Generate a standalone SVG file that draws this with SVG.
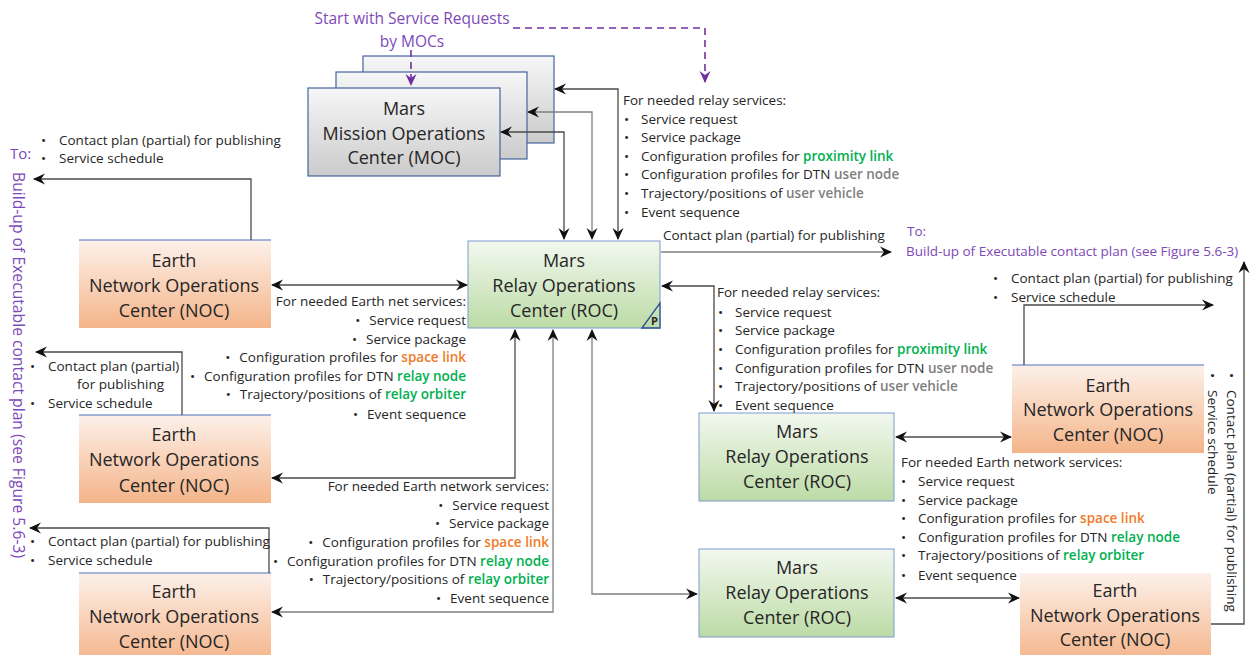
<svg xmlns="http://www.w3.org/2000/svg" width="1255" height="655" viewBox="0 0 1255 655">
  <style>
    text { font-family: "Open Sans", "Noto Sans", "Liberation Sans", sans-serif; fill: #262626; }
    .t { font-size: 13.5px; }
    .box { font-size: 18px; text-anchor: middle; }
    .purple { fill: #7d48b8; }
    .g { fill: #00b050; font-weight: 600; }
    .o { fill: #f07a28; font-weight: 600; }
    .u { fill: #7f7f7f; font-weight: 600; }
    .end { text-anchor: end; }
    .ln { fill: none; stroke: #4a4a4a; stroke-width: 1.3; }
    .ln2 { fill: none; stroke: #808080; stroke-width: 1.3; }
    .dash { fill: none; stroke: #7030a0; stroke-width: 1.6; stroke-dasharray: 7 5; }
    .moc { fill: url(#gMoc); stroke: #41649e; stroke-width: 1.2; }
    .roc { fill: url(#gRoc); stroke: #7f9bd0; stroke-width: 1; }
    .noc { fill: url(#gNoc); stroke: none; }
    .top { stroke: #4f71be; stroke-width: 1.2; }
  </style>
  <defs>
    <linearGradient id="gMoc" x1="0" y1="0" x2="0" y2="1">
      <stop offset="0" stop-color="#f7f7f7"/>
      <stop offset="1" stop-color="#cbcbcb"/>
    </linearGradient>
    <linearGradient id="gRoc" x1="0" y1="0" x2="0" y2="1">
      <stop offset="0" stop-color="#f2f8ef"/>
      <stop offset="1" stop-color="#bcdba6"/>
    </linearGradient>
    <linearGradient id="gNoc" x1="0" y1="0" x2="0" y2="1">
      <stop offset="0" stop-color="#fdf1ea"/>
      <stop offset="1" stop-color="#f4b489"/>
    </linearGradient>
    <marker id="ah" viewBox="0 0 12 12" refX="11" refY="6" markerWidth="12" markerHeight="12" markerUnits="userSpaceOnUse" orient="auto-start-reverse">
      <path d="M0,0.5 L12,6 L0,11.5 L4,6 Z" fill="#111"/>
    </marker>
    <marker id="ahp" viewBox="0 0 12 12" refX="11" refY="6" markerWidth="12" markerHeight="12" markerUnits="userSpaceOnUse" orient="auto-start-reverse">
      <path d="M0,0.5 L12,6 L0,11.5 L4,6 Z" fill="#7030a0"/>
    </marker>
  </defs>

  <!-- Start label -->
  <text class="purple" x="412" y="24" font-size="15.5" text-anchor="middle">Start with Service Requests</text>
  <text class="purple" x="412" y="47" font-size="15.5" text-anchor="middle">by MOCs</text>

  <!-- Mars MOC (stacked) -->
  <g id="moc">
    <rect class="moc" x="363" y="56" width="191" height="87"/>
    <rect class="moc" x="336" y="72" width="191" height="87"/>
    <rect class="moc" x="308" y="88" width="192" height="88"/>
    <text class="box" x="404" y="115">Mars</text>
    <text class="box" x="404" y="140">Mission Operations</text>
    <text class="box" x="404" y="164">Center (MOC)</text>
  </g>

  <!-- Mars ROC (main) -->
  <g id="roc-main">
    <rect class="roc" x="468" y="241" width="192" height="87"/>
    <polygon points="642,328 660,303 660,328" fill="none" stroke="#2f5597" stroke-width="1.3"/>
    <text x="651" y="325" font-size="11" font-weight="bold" fill="#111">P</text>
    <text class="box" x="564" y="267">Mars</text>
    <text class="box" x="564" y="292">Relay Operations</text>
    <text class="box" x="564" y="317">Center (ROC)</text>
  </g>

  <!-- Mars ROC 2 -->
  <g id="roc-2">
    <rect class="roc" x="699" y="413" width="195" height="88"/>
    <text class="box" x="797" y="438">Mars</text>
    <text class="box" x="797" y="463">Relay Operations</text>
    <text class="box" x="797" y="488">Center (ROC)</text>
  </g>

  <!-- Mars ROC 3 -->
  <g id="roc-3">
    <rect class="roc" x="699" y="549" width="195" height="88"/>
    <text class="box" x="797" y="574">Mars</text>
    <text class="box" x="797" y="599">Relay Operations</text>
    <text class="box" x="797" y="624">Center (ROC)</text>
  </g>

  <!-- Earth NOC 1 -->
  <g id="noc-1">
    <rect class="noc" x="79" y="240" width="192" height="88"/>
    <line class="top" x1="79" y1="240" x2="271" y2="240"/>
    <text class="box" x="174" y="267">Earth</text>
    <text class="box" x="174" y="292">Network Operations</text>
    <text class="box" x="174" y="317">Center (NOC)</text>
  </g>

  <!-- Earth NOC 2 -->
  <g id="noc-2">
    <rect class="noc" x="79" y="415" width="192" height="88"/>
    <line class="top" x1="79" y1="415" x2="271" y2="415"/>
    <text class="box" x="174" y="441">Earth</text>
    <text class="box" x="174" y="466">Network Operations</text>
    <text class="box" x="174" y="492">Center (NOC)</text>
  </g>

  <!-- Earth NOC 3 -->
  <g id="noc-3">
    <rect class="noc" x="79" y="573" width="192" height="90"/>
    <line class="top" x1="79" y1="573" x2="271" y2="573"/>
    <text class="box" x="174" y="598">Earth</text>
    <text class="box" x="174" y="623">Network Operations</text>
    <text class="box" x="174" y="648">Center (NOC)</text>
  </g>

  <!-- Earth NOC 4 -->
  <g id="noc-4">
    <rect class="noc" x="1012" y="365" width="192" height="88"/>
    <line class="top" x1="1012" y1="365" x2="1204" y2="365"/>
    <text class="box" x="1108" y="392">Earth</text>
    <text class="box" x="1108" y="416">Network Operations</text>
    <text class="box" x="1108" y="441">Center (NOC)</text>
  </g>

  <!-- Earth NOC 5 -->
  <g id="noc-5">
    <rect class="noc" x="1020" y="573" width="191" height="90" stroke="#404040" stroke-width="1"/>
    <text class="box" x="1115" y="597">Earth</text>
    <text class="box" x="1115" y="622">Network Operations</text>
    <text class="box" x="1115" y="646">Center (NOC)</text>
  </g>

  <!-- Connectors -->
  <g id="connectors">
    <path class="dash" d="M513,28 H705 V82" marker-end="url(#ahp)"/>
    <path class="dash" d="M411,50 V85" marker-end="url(#ahp)"/>

    <path class="ln" d="M618,239 V89 H555" marker-start="url(#ah)" marker-end="url(#ah)"/>
    <path class="ln2" d="M592,239 V112 H528" marker-start="url(#ah)" marker-end="url(#ah)"/>
    <path class="ln" d="M564,239 V132 H501" marker-start="url(#ah)" marker-end="url(#ah)"/>

    <path class="ln" d="M272,285 H467" marker-start="url(#ah)" marker-end="url(#ah)"/>
    <path class="ln" d="M251,240 V179 H34" marker-end="url(#ah)"/>
    <path class="ln" d="M182,415 V352 H36" marker-end="url(#ah)"/>
    <path class="ln" d="M269,573 V528 H30" marker-end="url(#ah)"/>

    <path class="ln" d="M515,330 V478 H272" marker-start="url(#ah)" marker-end="url(#ah)"/>
    <path class="ln2" d="M553,330 V612 H272" marker-start="url(#ah)" marker-end="url(#ah)"/>
    <path class="ln2" d="M592,330 V594 H697" marker-start="url(#ah)" marker-end="url(#ah)"/>
    <path class="ln" d="M662,286 H714 V411" marker-start="url(#ah)" marker-end="url(#ah)"/>
    <path class="ln2" d="M661,252 H891" marker-end="url(#ah)"/>

    <path class="ln" d="M896,437 H1011" marker-start="url(#ah)" marker-end="url(#ah)"/>
    <path class="ln" d="M896,598 H1019" marker-start="url(#ah)" marker-end="url(#ah)"/>
    <path class="ln" d="M1024,365 V305 H1213" marker-end="url(#ah)"/>
    <path class="ln" d="M1211,624 H1244 V262" marker-end="url(#ah)"/>
  </g>

  <!-- Labels: relay services requested by MOCs -->
  <g class="t">
    <text x="623" y="105">For needed relay services:</text>
    <text x="624" y="124">•</text><text x="641" y="124">Service request</text>
    <text x="624" y="142">•</text><text x="641" y="142">Service package</text>
    <text x="624" y="161">•</text><text x="641" y="161">Configuration profiles for <tspan class="g">proximity link</tspan></text>
    <text x="624" y="179">•</text><text x="641" y="179">Configuration profiles for DTN <tspan class="u">user node</tspan></text>
    <text x="624" y="198">•</text><text x="641" y="198">Trajectory/positions of <tspan class="u">user vehicle</tspan></text>
    <text x="624" y="217">•</text><text x="641" y="217">Event sequence</text>
  </g>

  <!-- Labels: NOC 1 outputs -->
  <g class="t">
    <text x="41" y="145">•</text><text x="59" y="145">Contact plan (partial) for publishing</text>
    <text x="41" y="163">•</text><text x="59" y="163">Service schedule</text>
  </g>

  <!-- Left destination -->
  <text class="purple" x="10" y="159" font-size="15">To:</text>
  <text class="purple" font-size="15.7" transform="translate(13,172) rotate(90)">Build-up of Executable contact plan (see Figure 5.6-3)</text>

  <!-- Labels: Earth net services (main ROC) -->
  <g class="t end">
    <text x="466" y="306">For needed Earth net services:</text>
    <text x="466" y="325"><tspan>•</tspan><tspan dx="9">Service request</tspan></text>
    <text x="466" y="344"><tspan>•</tspan><tspan dx="9">Service package</tspan></text>
    <text x="466" y="362"><tspan>•</tspan><tspan dx="9">Configuration profiles for </tspan><tspan class="o">space link</tspan></text>
    <text x="466" y="381"><tspan>•</tspan><tspan dx="9">Configuration profiles for DTN </tspan><tspan class="g">relay node</tspan></text>
    <text x="466" y="399"><tspan>•</tspan><tspan dx="9">Trajectory/positions of </tspan><tspan class="g">relay orbiter</tspan></text>
    <text x="466" y="419"><tspan>•</tspan><tspan dx="9">Event sequence</tspan></text>
  </g>

  <!-- Labels: NOC 2 outputs -->
  <g class="t">
    <text x="30" y="371">•</text><text x="48" y="371">Contact plan (partial)</text>
    <text x="77" y="389">for publishing</text>
    <text x="30" y="408">•</text><text x="48" y="408">Service schedule</text>
  </g>

  <!-- Labels: NOC 3 outputs -->
  <g class="t">
    <text x="30" y="546">•</text><text x="48" y="546">Contact plan (partial) for publishing</text>
    <text x="30" y="565">•</text><text x="48" y="565">Service schedule</text>
  </g>

  <!-- Labels: Earth network services (main ROC, lower) -->
  <g class="t end">
    <text x="549" y="491">For needed Earth network services:</text>
    <text x="549" y="510"><tspan>•</tspan><tspan dx="9">Service request</tspan></text>
    <text x="549" y="528"><tspan>•</tspan><tspan dx="9">Service package</tspan></text>
    <text x="549" y="547"><tspan>•</tspan><tspan dx="9">Configuration profiles for </tspan><tspan class="o">space link</tspan></text>
    <text x="549" y="566"><tspan>•</tspan><tspan dx="9">Configuration profiles for DTN </tspan><tspan class="g">relay node</tspan></text>
    <text x="549" y="584"><tspan>•</tspan><tspan dx="9">Trajectory/positions of </tspan><tspan class="g">relay orbiter</tspan></text>
    <text x="549" y="603"><tspan>•</tspan><tspan dx="9">Event sequence</tspan></text>
  </g>

  <!-- Labels: contact plan from main ROC -->
  <g class="t">
    <text x="663" y="240">Contact plan (partial) for publishing</text>
  </g>
  <text class="purple" x="907" y="236" font-size="13.5">To:</text>
  <text class="purple" x="906" y="256" font-size="13.5">Build-up of Executable contact plan (see Figure 5.6-3)</text>

  <!-- Labels: relay services to ROC 2 -->
  <g class="t">
    <text x="717" y="297">For needed relay services:</text>
    <text x="718" y="317">•</text><text x="735" y="317">Service request</text>
    <text x="718" y="335">•</text><text x="735" y="335">Service package</text>
    <text x="718" y="354">•</text><text x="735" y="354">Configuration profiles for <tspan class="g">proximity link</tspan></text>
    <text x="718" y="373">•</text><text x="735" y="373">Configuration profiles for DTN <tspan class="u">user node</tspan></text>
    <text x="718" y="391">•</text><text x="735" y="391">Trajectory/positions of <tspan class="u">user vehicle</tspan></text>
    <text x="718" y="410">•</text><text x="735" y="410">Event sequence</text>
  </g>

  <!-- Labels: NOC 4 outputs -->
  <g class="t">
    <text x="993" y="283">•</text><text x="1011" y="283">Contact plan (partial) for publishing</text>
    <text x="993" y="302">•</text><text x="1011" y="302">Service schedule</text>
  </g>

  <!-- Labels: Earth network services for ROC 2/3 -->
  <g class="t">
    <text x="901" y="467">For needed Earth network services:</text>
    <text x="901" y="486">•</text><text x="918" y="486">Service request</text>
    <text x="901" y="505">•</text><text x="918" y="505">Service package</text>
    <text x="901" y="523">•</text><text x="918" y="523">Configuration profiles for <tspan class="o">space link</tspan></text>
    <text x="901" y="542">•</text><text x="918" y="542">Configuration profiles for DTN <tspan class="g">relay node</tspan></text>
    <text x="901" y="560">•</text><text x="918" y="560">Trajectory/positions of <tspan class="g">relay orbiter</tspan></text>
    <text x="901" y="580">•</text><text x="918" y="580">Event sequence</text>
  </g>

  <!-- Labels: NOC 5 outputs (vertical) -->
  <g class="t">
    <text transform="translate(1227,373) rotate(90)">•<tspan x="17">Contact plan (partial) for publishing</tspan></text>
    <text transform="translate(1208,373) rotate(90)">•<tspan x="17">Service schedule</tspan></text>
  </g>
</svg>
